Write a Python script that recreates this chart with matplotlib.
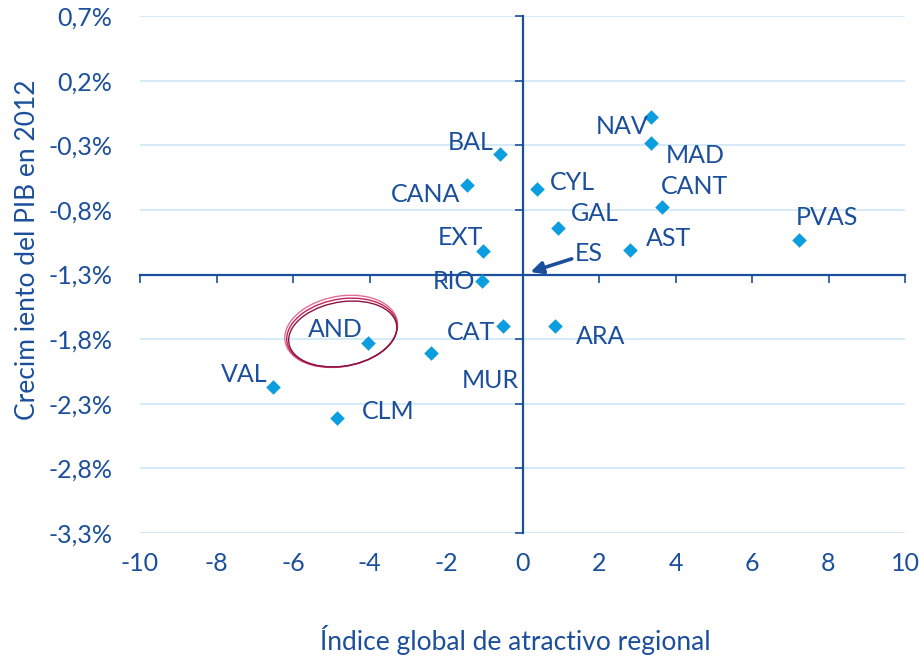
import matplotlib.pyplot as plt
from matplotlib.patches import Ellipse

# regions: attractiveness index (x) vs GDP growth 2012 in % (y)
regions = ["NAV", "MAD", "CANT", "PVAS", "AST", "GAL", "CYL", "BAL", "CANA",
           "EXT", "RIO", "CAT", "MUR", "ARA", "AND", "VAL", "CLM"]
indice = [3.35, 3.37, 3.66, 7.22, 2.80, 0.92, 0.37, -0.58, -1.46,
          -1.02, -1.07, -0.52, -2.38, 0.86, -4.03, -6.51, -4.84]
crecimiento = [-0.08, -0.28, -0.78, -1.03, -1.11, -0.94, -0.64, -0.37, -0.61,
               -1.12, -1.35, -1.70, -1.91, -1.70, -1.83, -2.17, -2.41]
# label offsets in pixels (dx, dy)
offsets = [(-29, -10), (44, -13), (32, 21), (28, 22), (39, 11), (37, 14), (36, 7),
           (-30, 12), (-41, -9), (-23, 14), (-28, -1), (-32, -6), (59, -27),
           (45, -10), (-33, 14), (-29, 12), (51, 6)]

es_x, es_y = 0, -1.3
xticks = list(range(-10, 11, 2))
yticks = [0.7, 0.2, -0.3, -0.8, -1.3, -1.8, -2.3, -2.8, -3.3]

dark = "#1b4f9c"
point = "#0a9de0"
grid = "#cde8f6"

plt.rcParams['font.family'] = ['Lato', 'DejaVu Sans']

fig = plt.figure(figsize=(9.2, 6.56), dpi=100)
ax = fig.add_axes([140 / 920, 1 - 533 / 656, 765 / 920, 517 / 656])
ax.set_xlim(-10, 10)
ax.set_ylim(-3.3, 0.7)

for y in yticks:
    ax.axhline(y, color=grid, lw=1.2, zorder=0)

# crossing axes at (0, -1.3)
for s in ["top", "right"]:
    ax.spines[s].set_visible(False)
ax.spines["left"].set_position(("data", 0))
ax.spines["bottom"].set_position(("data", -1.3))
ax.spines["left"].set_color(dark)
ax.spines["bottom"].set_color(dark)
ax.spines["left"].set_linewidth(1.6)
ax.spines["bottom"].set_linewidth(1.6)
ax.set_xticks(xticks)
ax.set_yticks(yticks)
ax.tick_params(axis="both", direction="out", length=6, width=1.2, color=dark,
               labelbottom=False, labelleft=False)

# tick labels at the outer edges
sx = ax.secondary_xaxis("bottom")
sx.set_xticks(xticks)
sx.set_xticklabels([str(v) for v in xticks])
sx.spines["bottom"].set_visible(False)
sx.tick_params(length=0, pad=14, labelsize=18, labelcolor=dark)

sy = ax.secondary_yaxis("left")
sy.set_yticks(yticks)
sy.set_yticklabels([f"{v:.1f}%".replace(".", ",") for v in yticks])
sy.spines["left"].set_visible(False)
sy.tick_params(length=0, pad=20, labelsize=18, labelcolor=dark)

ax.scatter(indice, crecimiento, marker="D", s=55, color=point, zorder=3,
           linewidths=0)

for name, x, y, (dx, dy) in zip(regions, indice, crecimiento, offsets):
    ax.annotate(name, (x, y), xytext=(dx, dy), textcoords="offset pixels",
                ha="center", va="center", fontsize=18, color=dark)

ax.annotate("ES", (es_x, es_y), xytext=(66, 21), textcoords="offset pixels",
            ha="center", va="center", fontsize=18, color=dark,
            arrowprops=dict(arrowstyle="-|>", color=dark, lw=2.6,
                            shrinkA=0, shrinkB=6, mutation_scale=18))

# highlight around AND
ax_x, ax_y = indice[regions.index("AND")], crecimiento[regions.index("AND")]
for i, c in enumerate(["#e07095", "#c2225a", "#8a1440"]):
    ax.add_patch(Ellipse((ax_x - 0.71 + 0.02 * i, ax_y + 0.09 - 0.01 * i),
                         2.95 - 0.06 * i, 0.55 - 0.025 * i, angle=2,
                         fill=False, edgecolor=c, lw=1.0, zorder=4))

fig.text(28 / 920, 1 - 250 / 656, "Crecim iento del PIB en 2012", rotation=90,
         ha="center", va="center", fontsize=19, color=dark)
fig.text(515 / 920, 1 - 640 / 656, "Índice global de atractivo regional",
         ha="center", va="center", fontsize=19, color=dark)

fig.savefig("out.png", dpi=100)
